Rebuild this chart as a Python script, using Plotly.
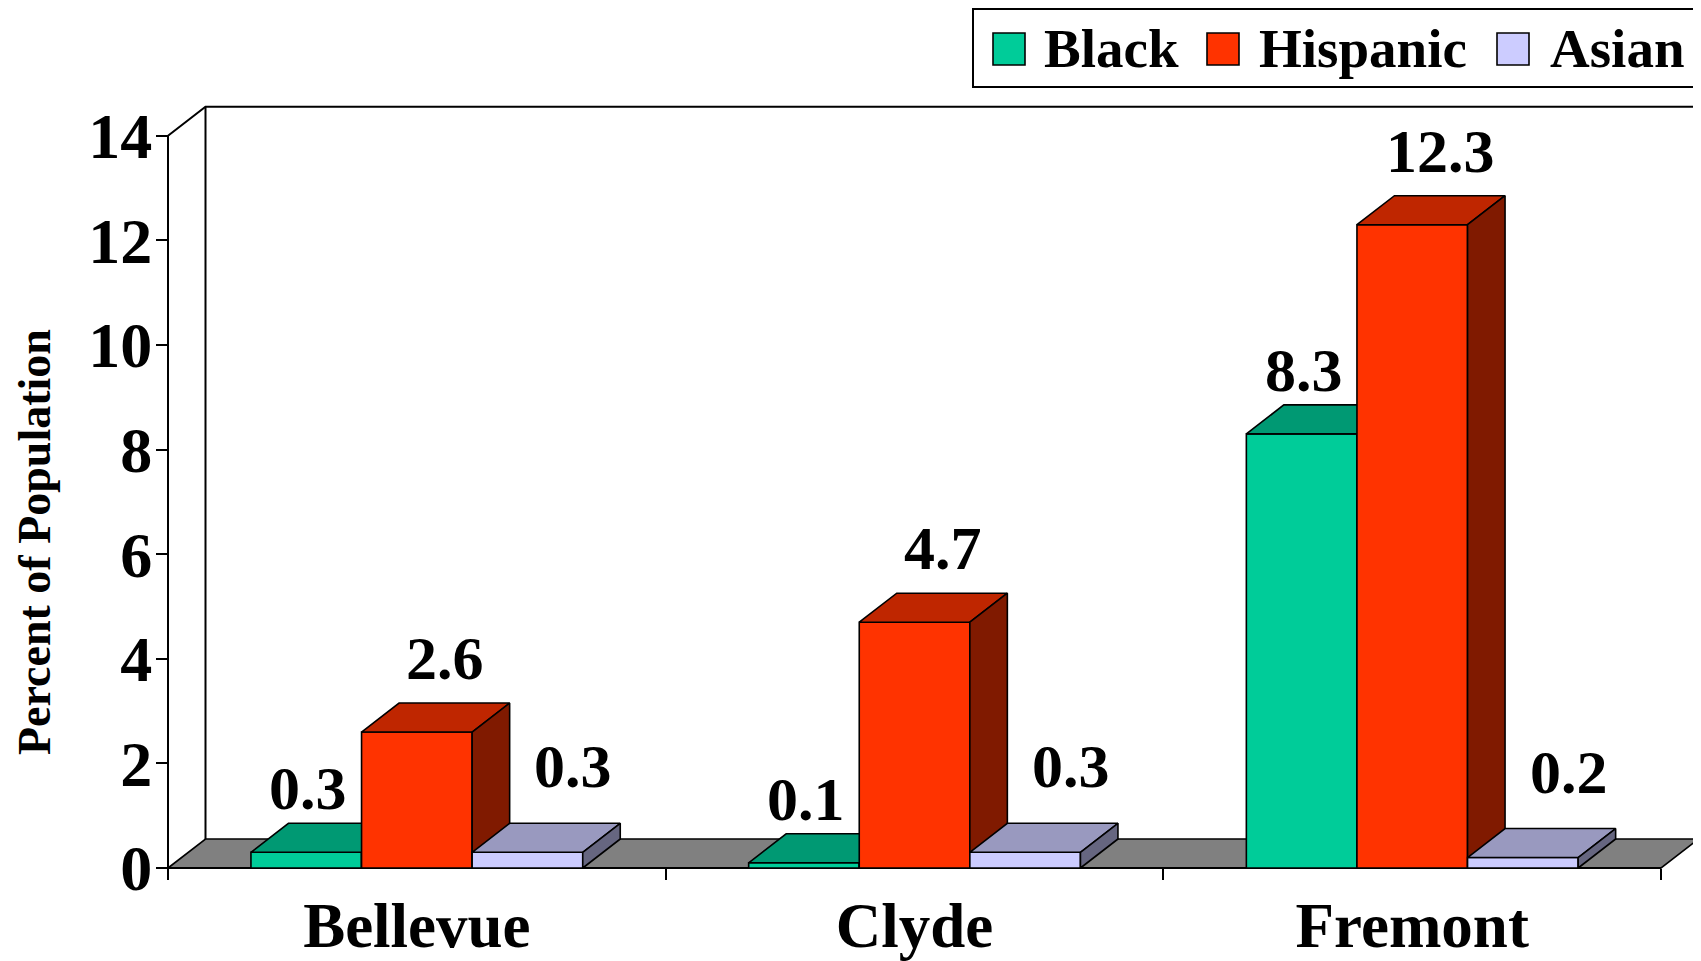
import plotly.graph_objects as go

# ---------------- data ----------------
categories = ["Bellevue", "Clyde", "Fremont"]
series_names = ["Black", "Hispanic", "Asian"]
black = [0.3, 0.1, 8.3]
hispanic = [2.6, 4.7, 12.3]
asian = [0.3, 0.3, 0.2]
y_ticks = [0, 2, 4, 6, 8, 10, 12, 14]
y_title = "Percent of Population"

# ---------------- styles ----------------
values = [black, hispanic, asian]
front_colors = ["#00CC99", "#FF3300", "#CCCCFF"]
top_colors = ["#009973", "#BF2600", "#9999BF"]
side_colors = ["#006B50", "#801A00", "#666680"]
label_xshift = [2, 28, 46]
label_yshift = [-1, 9, 21]

FIG_W, FIG_H = 1701, 961
ML, MR, MT, MB = 150, 0, 97, 98
X0_PX, PX_PER_X = 160, 497.7      # pixel of the left axis, pixels per category
Y0_PX, PX_PER_Y = 860, 52.3       # pixel of value 0, pixels per unit
X_RANGE = [-0.5 - (X0_PX - ML) / PX_PER_X, -0.5 + (FIG_W - MR - X0_PX) / PX_PER_X]
Y_RANGE = [-(FIG_H - MB - Y0_PX) / PX_PER_Y, (Y0_PX - MT) / PX_PER_Y]
BAR_W = 2 / 9          # bar width in category units
DX = 37.5 / PX_PER_X   # depth offset (category units)
DY = 29 / PX_PER_Y     # depth offset (value units)
FONT = "Liberation Serif, Times New Roman, serif"
EDGE = dict(color="black", width=1.6)

PW = FIG_W - ML - MR
PH = FIG_H - MT - MB


def px_to_paper_x(px):
    return (px - ML) / PW


def px_to_paper_y(py):
    return (FIG_H - MB - py) / PH


fig = go.Figure()

n_cat = len(categories)
left_edge = -0.5
right_edge = n_cat - 0.5
top_val = y_ticks[-1]

# floor
fig.add_trace(go.Scatter(
    x=[left_edge, left_edge + DX, right_edge + DX, right_edge, left_edge],
    y=[0, DY, DY, 0, 0],
    fill="toself", fillcolor="#808080", mode="lines", line=EDGE,
    hoverinfo="skip", showlegend=False))

# back wall edges, y axis line, x axis line
fig.add_trace(go.Scatter(
    x=[left_edge, left_edge + DX, right_edge + DX + 0.2, None,
       left_edge + DX, left_edge + DX, None,
       left_edge, left_edge, None,
       left_edge, right_edge],
    y=[top_val, top_val + DY, top_val + DY, None,
       DY, top_val + DY, None,
       0, top_val, None,
       0, 0],
    mode="lines", line=dict(color="black", width=2),
    hoverinfo="skip", showlegend=False))

# 3-D bars built from the data
n_ser = len(values)
for s, vals in enumerate(values):
    fx, fy, tx, ty, sx, sy = [], [], [], [], [], []
    for i, v in enumerate(vals):
        x0 = i + (s - (n_ser - 1) / 2) * BAR_W - BAR_W / 2
        x1 = x0 + BAR_W
        fx += [x0, x1, x1, x0, x0, None]
        fy += [0, 0, v, v, 0, None]
        tx += [x0, x1, x1 + DX, x0 + DX, x0, None]
        ty += [v, v, v + DY, v + DY, v, None]
        sx += [x1, x1 + DX, x1 + DX, x1, x1, None]
        sy += [0, DY, v + DY, v, 0, None]
    for xx, yy, col in ((fx, fy, front_colors[s]), (tx, ty, top_colors[s]),
                        (sx, sy, side_colors[s])):
        fig.add_trace(go.Scatter(
            x=xx, y=yy, fill="toself", fillcolor=col, mode="lines",
            line=EDGE, name=series_names[s], legendgroup=series_names[s],
            hoverinfo="skip", showlegend=False))
    # value labels
    for i, v in enumerate(vals):
        xc = i + (s - (n_ser - 1) / 2) * BAR_W
        fig.add_annotation(
            x=xc, y=v + DY, xref="x", yref="y", text=f"{v:.1f}",
            showarrow=False, yanchor="bottom", xanchor="center",
            xshift=label_xshift[s], yshift=label_yshift[s],
            font=dict(family=FONT, size=62, color="black", weight="bold"))

# manual legend (pixel-derived paper coordinates)
lg_box = (965, 1, 1691, 79)
fig.add_shape(type="rect", xref="paper", yref="paper",
              x0=px_to_paper_x(lg_box[0]), x1=px_to_paper_x(lg_box[2]),
              y0=px_to_paper_y(lg_box[3]), y1=px_to_paper_y(lg_box[1]),
              line=dict(color="black", width=2), fillcolor="white")
icon_x = [985, 1199, 1489]
text_x = [1034, 1249, 1540]
for s, name in enumerate(series_names):
    fig.add_shape(type="rect", xref="paper", yref="paper",
                  x0=px_to_paper_x(icon_x[s]), x1=px_to_paper_x(icon_x[s] + 32),
                  y0=px_to_paper_y(57), y1=px_to_paper_y(25),
                  line=dict(color="black", width=1.6), fillcolor=front_colors[s])
    fig.add_annotation(x=px_to_paper_x(text_x[s]), y=px_to_paper_y(40),
                       xref="paper", yref="paper", text=name, showarrow=False,
                       xanchor="left", yanchor="middle",
                       font=dict(family=FONT, size=55, color="black", weight="bold"))

# y-axis title
fig.add_annotation(x=px_to_paper_x(26), y=px_to_paper_y(534), xref="paper",
                   yref="paper", text=y_title, textangle=-90, showarrow=False,
                   xanchor="center", yanchor="middle",
                   font=dict(family=FONT, size=46, color="black", weight="bold"))

fig.update_layout(
    width=FIG_W, height=FIG_H,
    margin=dict(l=ML, r=MR, t=MT, b=MB, pad=0),
    paper_bgcolor="white", plot_bgcolor="white",
    showlegend=False,
    xaxis=dict(range=X_RANGE, anchor="free",
               position=(0 - Y_RANGE[0]) / (Y_RANGE[1] - Y_RANGE[0]),
               tickmode="array", tickvals=list(range(n_cat)), ticktext=categories,
               ticks="", showgrid=False, zeroline=False, showline=False,
               tickfont=dict(family=FONT, size=63, color="black", weight="bold"),
               ticklabelstandoff=15,
               minor=dict(tickmode="array",
                          tickvals=[k - 0.5 for k in range(n_cat + 1)],
                          ticks="outside", ticklen=11, tickwidth=2,
                          tickcolor="black", showgrid=False)),
    yaxis=dict(range=Y_RANGE, anchor="free",
               position=(left_edge - X_RANGE[0]) / (X_RANGE[1] - X_RANGE[0]),
               tickmode="array", tickvals=y_ticks,
               ticks="outside", ticklen=12, tickwidth=2, tickcolor="black",
               showgrid=False, zeroline=False, showline=False,
               tickfont=dict(family=FONT, size=64, color="black", weight="bold"),
               ticklabelstandoff=-9),
)

fig.write_html("out.html")
